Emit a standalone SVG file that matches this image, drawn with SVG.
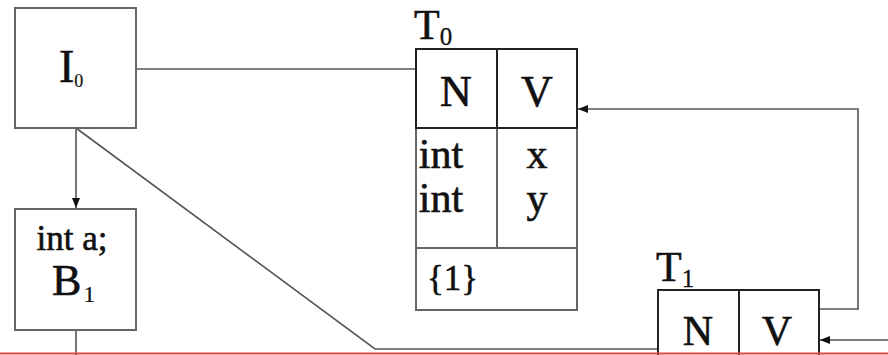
<svg xmlns="http://www.w3.org/2000/svg" width="888" height="355" viewBox="0 0 888 355">
<defs>
<style>
.box{fill:#fff;stroke:#666;stroke-width:2}
.hdr{fill:none;stroke:#222;stroke-width:2}
.ln{fill:none;stroke:#555;stroke-width:1.6}
.t{font-family:"Liberation Serif","Times New Roman",serif;fill:#111;stroke:#111;stroke-width:0.6}
</style>
<marker id="ah" viewBox="0 0 10 8" refX="10" refY="4" markerWidth="10" markerHeight="8" markerUnits="userSpaceOnUse" orient="auto">
<path d="M0,0 L10,4 L0,8 Z" fill="#111"/>
</marker>
</defs>
<rect width="888" height="355" fill="#fff"/>
<g id="connectors">
<path class="ln" d="M136,69 H416"/>
<path class="ln" d="M76,128 V208" marker-end="url(#ah)"/>
<path class="ln" d="M76,330 V355"/>
<path class="ln" d="M76,128 L375,349 H658"/>
<path class="ln" d="M820,309 H858 V109 H578" marker-end="url(#ah)"/>
<path class="ln" d="M888,340 H820" marker-end="url(#ah)"/>
</g>
<g id="I0">
<rect class="box" x="15" y="8" width="121" height="120"/>
<text class="t" x="59" y="82" font-size="46">I<tspan font-size="18" stroke-width="0.2" dy="5">0</tspan></text>
</g>
<g id="B1">
<rect class="box" x="15" y="209" width="121" height="121"/>
<text class="t" x="72" y="250" font-size="35" text-anchor="middle">int a;</text>
<text class="t" x="52" y="295" font-size="44">B<tspan font-size="24" stroke-width="0.2" dx="2" dy="7">1</tspan></text>
</g>
<g id="T0">
<text class="t" x="414" y="39" font-size="42">T<tspan font-size="25" stroke-width="0.3" dy="6">0</tspan></text>
<rect class="box" x="416" y="49" width="161" height="261"/>
<line class="box" x1="416" y1="248" x2="577" y2="248"/>
<line class="box" x1="497" y1="128" x2="497" y2="248"/>
<rect class="hdr" x="416" y="49" width="161" height="79"/>
<line class="hdr" x1="497" y1="49" x2="497" y2="128"/>
<text class="t" x="456" y="106" font-size="44" text-anchor="middle">N</text>
<text class="t" x="537" y="106" font-size="44" text-anchor="middle">V</text>
<text class="t" x="441" y="168" font-size="42" text-anchor="middle">int</text>
<text class="t" x="441" y="212" font-size="42" text-anchor="middle">int</text>
<text class="t" x="537" y="168" font-size="42" text-anchor="middle">x</text>
<text class="t" x="537" y="212" font-size="42" text-anchor="middle">y</text>
<text class="t" x="427" y="290" font-size="35">{1}</text>
</g>
<g id="T1">
<text class="t" x="656" y="281" font-size="42">T<tspan font-size="25" stroke-width="0.3" dy="6">1</tspan></text>
<rect class="hdr" x="658" y="290" width="161" height="79"/>
<line class="hdr" x1="739" y1="290" x2="739" y2="369"/>
<text class="t" x="698" y="345" font-size="42" text-anchor="middle">N</text>
<text class="t" x="777" y="345" font-size="42" text-anchor="middle">V</text>
</g>
<line x1="0" y1="353.5" x2="888" y2="353.5" stroke="#dd4444" stroke-width="2"/>
</svg>
